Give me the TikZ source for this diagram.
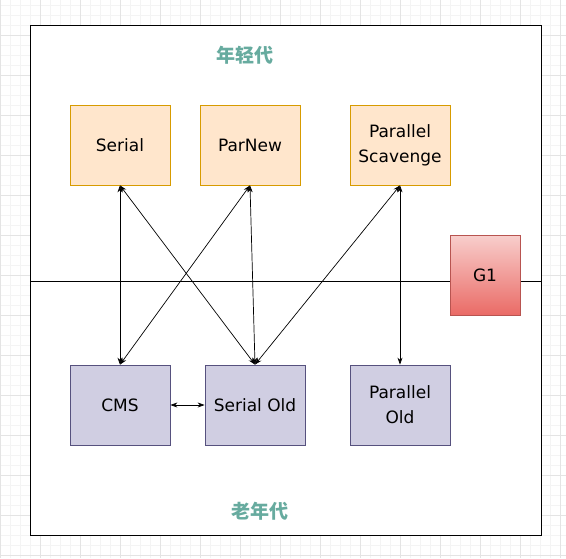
\documentclass[tikz,border=0pt]{standalone}
\usepackage{fontspec}
\setmainfont{DejaVu Sans}
\newfontfamily\cjk{Noto Sans CJK SC}
\usetikzlibrary{arrows.meta}
\definecolor{youngfill}{HTML}{FFE6CC}
\definecolor{youngdraw}{HTML}{D79B00}
\definecolor{oldfill}{HTML}{D0CEE2}
\definecolor{olddraw}{HTML}{56517E}
\definecolor{gonetop}{HTML}{F8CECC}
\definecolor{gonebottom}{HTML}{EA6B66}
\definecolor{gonedraw}{HTML}{B85450}
\definecolor{gentext}{HTML}{67AB9F}
\definecolor{minorgrid}{HTML}{F4F4F4}
\definecolor{majorgrid}{HTML}{E4E4E4}
\begin{document}
\begin{tikzpicture}[x=1pt,y=-1pt,
    box/.style={minimum width=100pt,minimum height=80pt,inner sep=1pt,align=center,
      line width=0.8pt,font=\fontsize{17}{25}\selectfont},
    young/.style={box,draw=youngdraw,fill=youngfill},
    old/.style={box,draw=olddraw,fill=oldfill},
    gonebox/.style={box,minimum width=70pt,draw=gonedraw,top color=gonetop,bottom color=gonebottom},
    gen/.style={text=gentext,font=\cjk\bfseries\fontsize{19}{22}\selectfont}]
  \useasboundingbox (0,0) rectangle (566,558);
  % grid
  \foreach \x in {0,10,...,560}
    \draw[minorgrid,line width=0.8pt] (\x,0) -- (\x,558);
  \foreach \y in {5,15,...,555}
    \draw[minorgrid,line width=0.8pt] (0,\y) -- (566,\y);
  \foreach \x in {0,40,...,560}
    \draw[majorgrid,line width=0.8pt] (\x,0) -- (\x,558);
  \foreach \y in {35,75,...,555}
    \draw[majorgrid,line width=0.8pt] (0,\y) -- (566,\y);
  \draw[line width=0.9pt,fill=white] (30,25) rectangle (541,535);
  \node[gen] (youngtitle) at (245,55) {年轻代};
  \node[gen] (oldtitle) at (260,511) {老年代};
  % divider
  \coordinate (divl) at (30,281);
  \coordinate (divr) at (541,281);
  \draw[line width=0.9pt] (divl) -- (divr);
  \node[young] (serial) at (120,145) {Serial};
  \node[young] (parnew) at (250,145) {ParNew};
  \node[young] (pscav) at (400,145) {Parallel\\Scavenge};
  \node[old] (cms) at (120,405) {CMS};
  \node[old] (serialold) at (255,405) {Serial Old};
  \node[old] (pold) at (400,405) {Parallel\\Old};
  \node[gonebox] (gone) at (485,275) {G1};
  \begin{scope}[{Stealth[length=7pt,width=5pt]}-{Stealth[length=7pt,width=5pt]},line width=0.7pt]
    \draw (serial.south) to (cms.north);
    \draw (serial.south) to (serialold.north);
    \draw (parnew.south) to (cms.north);
    \draw (parnew.south) to (serialold.north);
    \draw (pscav.south) to (serialold.north);
    \draw (pscav.south) to (pold.north);
    \draw (cms.east) to (serialold.west);
  \end{scope}
\end{tikzpicture}
\end{document}
